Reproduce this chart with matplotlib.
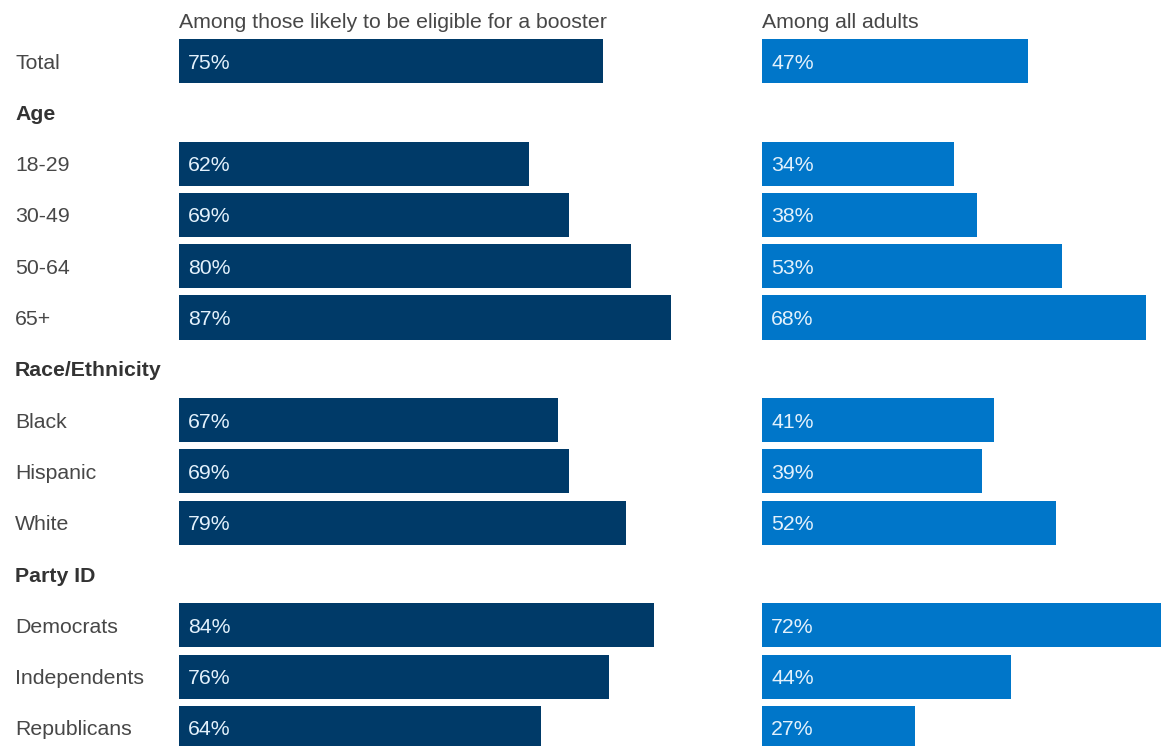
import numpy as np
import matplotlib.pyplot as plt

plt.rcParams['font.family'] = ['Liberation Sans', 'DejaVu Sans']

# data
labels = ['Total', 'Age', '18-29', '30-49', '50-64', '65+', 'Race/Ethnicity',
          'Black', 'Hispanic', 'White', 'Party ID',
          'Democrats', 'Independents', 'Republicans']
headers = ['Age', 'Race/Ethnicity', 'Party ID']
eligible = [75, None, 62, 69, 80, 87, None, 67, 69, 79, None, 84, 76, 64]
all_adults = [47, None, 34, 38, 53, 68, None, 41, 39, 52, None, 72, 44, 27]
titles = ['Among those likely to be eligible for a booster', 'Among all adults']

dark = '#003a68'
blue = '#0076c9'
txt = '#474747'
fs = 15.3

W, H = 1161, 746
fig = plt.figure(figsize=(W/100, H/100), dpi=100)

pxpct = 5.653     # pixels per percent
row = 51.3        # row pitch in px
y0 = 61           # center of first row in px
ylim = (H - y0) / row, -y0 / row
dy = 0.04         # small nudge so text sits like the original

def panel(x0, x1, vals, color, title):
    ax = fig.add_axes([x0/W, 0, (x1-x0)/W, 1])
    ax.set_xlim(0, (x1-x0)/pxpct)
    ax.set_ylim(*ylim)
    ax.axis('off')
    for i, v in enumerate(vals):
        if v is None:
            continue
        ax.barh(i, v, height=0.86, color=color, edgecolor='none')
        ax.text(1.6, i + dy, f'{v}%', color='#e3f1fc', fontsize=fs,
                va='center', ha='left')
    ax.text(0, -0.8 + dy, title, color=txt, fontsize=fs, va='center', ha='left')
    return ax

panel(179, 745, eligible, dark, titles[0])
panel(762, W, all_adults, blue, titles[1])

ax_l = fig.add_axes([0, 0, 179/W, 1])
ax_l.set_xlim(0, 179)
ax_l.set_ylim(*ylim)
ax_l.axis('off')
for i, lab in enumerate(labels):
    bold = lab in headers
    ax_l.text(15, i + dy, lab, color='#333333' if bold else txt, fontsize=fs,
              fontweight='bold' if bold else 'normal', va='center', ha='left')

fig.savefig('out.png', dpi=100, facecolor='white')
